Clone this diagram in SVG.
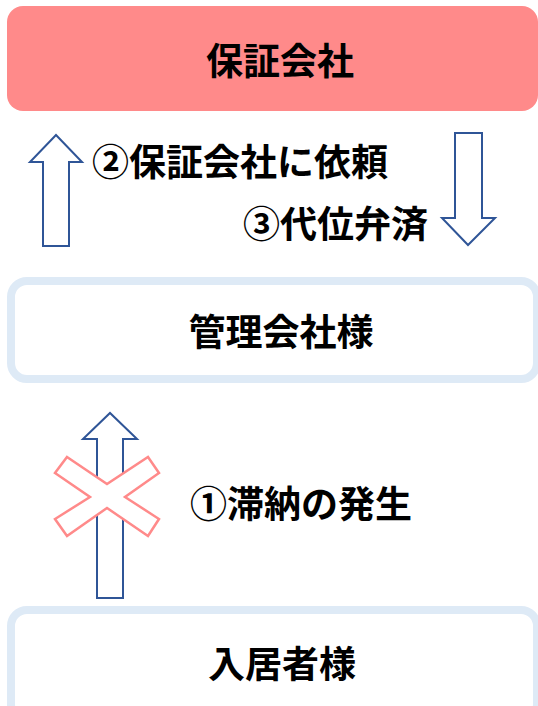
<svg xmlns="http://www.w3.org/2000/svg" width="538" height="706" viewBox="0 0 538 706">
<style>
.t{font-family:"Noto Sans CJK JP","Noto Sans CJK SC",sans-serif;font-weight:700;font-size:37px;fill:#000}
.m{text-anchor:middle}
.box{fill:#fff;stroke:#deeaf6;stroke-width:8}
.arr{fill:#fff;stroke:#2f5597;stroke-width:2;stroke-linejoin:miter}
.x{fill:#fff;stroke:#ff8a8a;stroke-width:2.5}
</style>
<rect width="538" height="706" fill="#fff"/>
<g id="guarantor">
<rect x="7" y="6" width="531" height="105" rx="16" fill="#ff8a8a"/>
<text class="t m" x="280" y="75">保証会社</text>
</g>
<g id="manager">
<rect class="box" x="11" y="281" width="526" height="98" rx="16"/>
<text class="t m" x="281" y="346">管理会社様</text>
</g>
<g id="tenant">
<rect class="box" x="11" y="610" width="526" height="110" rx="16"/>
<text class="t m" x="282" y="678">入居者様</text>
</g>
<g id="connectors">
<polygon class="arr" points="43,246 43,162 30,162 56,135 82,162 69,162 69,246"/>
<polygon class="arr" points="455,133 482,133 482,218 495,218 468,245 442,218 455,218"/>
<polygon class="arr" points="97,598 97,439 83,439 110,413 137,439 123,439 123,598"/>
<polygon class="x" points="67,457 107,484 148,457 159,473 125,497 159,519 148,536 107,508 67,536 55,519 90,497 55,473"/>
</g>
<g id="labels">
<text class="t" x="92" y="176">②保証会社に依頼</text>
<text class="t" x="243" y="238">③代位弁済</text>
<text class="t" x="190" y="518">①滞納の発生</text>
</g>
</svg>
